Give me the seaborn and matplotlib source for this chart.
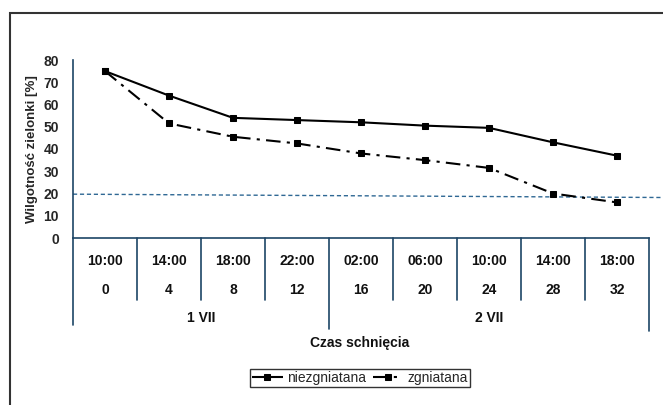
import pandas as pd
import seaborn as sns
import matplotlib.pyplot as plt
from matplotlib.patches import Rectangle
from matplotlib.transforms import blended_transform_factory

# data
times = ['10:00', '14:00', '18:00', '22:00', '02:00', '06:00', '10:00', '14:00', '18:00']
hours = [0, 4, 8, 12, 16, 20, 24, 28, 32]
days = ['1 VII', '2 VII']
niezgniatana = [75, 64, 54, 53, 52, 50.5, 49.5, 43, 37]
zgniatana = [75, 51.5, 45.5, 42.5, 38, 35, 31.5, 20, 16]
ref_line = [19.7, 18.2]

df = pd.DataFrame({
    'pos': list(range(len(times))) * 2,
    'value': niezgniatana + zgniatana,
    'serie': ['niezgniatana'] * len(times) + ['zgniatana'] * len(times),
})

sns.set_style('white')
plt.rcParams['font.family'] = ['Liberation Sans', 'DejaVu Sans']

axis_col = '#1d4566'
fig = plt.figure(figsize=(6.63, 4.05), dpi=100)
W, H = 663, 405
ax = fig.add_axes([73 / W, 1 - 238 / H, 576 / W, 178 / H])

sns.lineplot(data=df, x='pos', y='value', hue='serie', style='serie',
             palette=['black', 'black'], dashes=[(1, 0), (7, 3, 1.5, 3)],
             markers=['s', 's'], markersize=5, linewidth=1.5,
             markeredgecolor='black', ax=ax, legend=True)

n = len(times)
ax.plot([-0.5, n - 0.3], ref_line, linestyle=(0, (3, 2)), color='#2f6894',
        linewidth=1, clip_on=False, zorder=1)

ax.set_xlim(-0.5, n - 0.5)
ax.set_ylim(0, 80)
ax.set_yticks(range(0, 81, 10))
ax.set_xticks(range(n))
ax.set_xticklabels([])
ax.tick_params(axis='y', direction='inout', length=8, width=1, color=axis_col,
               labelsize=10, pad=6)
ax.tick_params(axis='x', direction='in', length=3, width=1, color=axis_col)
for lab in ax.get_yticklabels():
    lab.set_fontweight('bold')
for s in ['top', 'right']:
    ax.spines[s].set_visible(False)
for s in ['left', 'bottom']:
    ax.spines[s].set_color(axis_col)
    ax.spines[s].set_linewidth(1.2)
ax.set_ylabel('Wilgotność zielonki [%]', fontsize=9.5, fontweight='bold', labelpad=4)
ax.set_xlabel('')

# category table below the axis
tr = blended_transform_factory(ax.transData, ax.transAxes)
for i in range(1, n):
    low = -0.51 if i == 4 else -0.35
    ax.plot([i - 0.5, i - 0.5], [0, low], color=axis_col, lw=1.2,
            transform=tr, clip_on=False)
ax.plot([-0.5, -0.5], [0, -0.49], color=axis_col, lw=1.2, transform=tr, clip_on=False)
ax.plot([n - 0.5, n - 0.5], [0, -0.52], color=axis_col, lw=1.2, transform=tr, clip_on=False)
ax.plot([n - 0.5, n - 0.5], [0, 0.0], color=axis_col, lw=1.2, transform=tr, clip_on=False)
for i in range(n):
    ax.text(i, -0.13, times[i], transform=tr, ha='center', va='center',
            fontsize=10, fontweight='bold', color='#111111')
    ax.text(i, -0.29, str(hours[i]), transform=tr, ha='center', va='center',
            fontsize=10, fontweight='bold', color='#111111')
ax.text(1.5, -0.45, days[0], transform=tr, ha='center', va='center',
        fontsize=10, fontweight='bold', color='#111111')
ax.text(6, -0.45, days[1], transform=tr, ha='center', va='center',
        fontsize=10, fontweight='bold', color='#111111')
fig.text(360 / W, 1 - 343 / H, 'Czas schnięcia', ha='center', va='center',
         fontsize=10, fontweight='bold', color='#111111')

# legend
handles, labels = ax.get_legend_handles_labels()
ax.get_legend().remove()
leg = fig.legend(handles, labels, loc='center', bbox_to_anchor=(360 / W, 1 - 378 / H),
                 ncol=2, fontsize=10, frameon=True, fancybox=False,
                 handlelength=2.2, handletextpad=0.3, columnspacing=0.5,
                 borderpad=0.15, edgecolor='black')
leg.get_frame().set_linewidth(1)

# outer frame
fig.patches.append(Rectangle((9.5 / W, -0.2), 1.2, 1.2 - 12.5 / H + 0.0,
                             transform=fig.transFigure, fill=False,
                             edgecolor='#333333', linewidth=1.5))

fig.savefig('out.png', dpi=100)
